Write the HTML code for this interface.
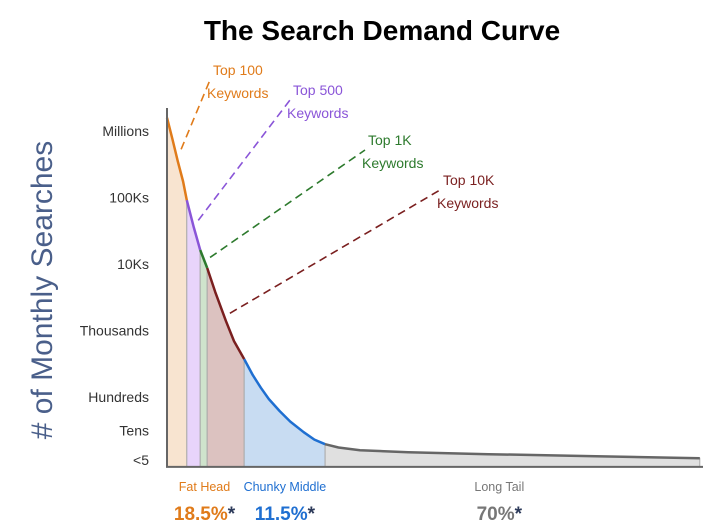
<!DOCTYPE html>
<html><head><meta charset="utf-8"><style>
html,body{margin:0;padding:0;background:#fff;}
svg{display:block;font-family:"Liberation Sans",sans-serif;}
</style></head><body>
<svg id="chart" width="715" height="532" viewBox="0 0 715 532">
<text x="382" y="40" text-anchor="middle" font-size="28" font-weight="bold" fill="#000">The Search Demand Curve</text>
<text transform="translate(52,290) rotate(-90)" text-anchor="middle" font-size="30" fill="#4a5f8a"># of Monthly Searches</text>
<g id="regions"></g><g id="curve"></g><g id="axes"></g><g id="ticks"></g><g id="annots"></g><g id="bottom"></g>
</svg>
<script>
const tickLabels=["Millions","100Ks","10Ks","Thousands","Hundreds","Tens","<5"];
const tickValues=[6,5,4,3,2,1.5,1.05];
const curveX=[0,1,2,3,3.7,5,6.2,7.5,9,11,12.5,14.4,16,17.5,19,21,23,25.5,27.5,29.5,32,36,45,60,80,99.4];
const curveY=[6.2,5.88,5.55,5.24,4.96,4.55,4.21,3.94,3.58,3.14,2.84,2.57,2.33,2.14,1.97,1.79,1.63,1.47,1.36,1.29,1.24,1.2,1.17,1.14,1.11,1.08];
const segBounds=[0,3.7,6.2,7.5,14.4,29.5,99.4];
const segNames=["top-100","top-500","top-1k","top-10k","chunky-middle","long-tail"];
const segLine=["#e07b1a","#8a55d8","#2d7a2d","#7a1f1f","#1f6fd1","#666"];
const segFill=["#f8e4d0","#e8d4fb","#cfe3cc","#dcc2c0","#c8dcf2","#e0e0e0"];
const annotLabels=["Top 100","Top 500","Top 1K","Top 10K"];
const annotAnchorX=[1.7,4.9,7.1,10.8];
const bottomLabels=["Fat Head","Chunky Middle","Long Tail"];
const bottomPct=["18.5%","11.5%","70%"];
const bottomCenterX=[7,22,62];
const baseV=0.95;
const X=v=>167+5.36*v, Y=v=>530-66.5*v;
const NS="http://www.w3.org/2000/svg";
function mk(t,a,p){const e=document.createElementNS(NS,t);for(const k in a)e.setAttribute(k,a[k]);p.appendChild(e);return e;}
function interp(x){for(let i=1;i<curveX.length;i++){if(x<=curveX[i]){const t=(x-curveX[i-1])/(curveX[i]-curveX[i-1]);return curveY[i-1]+t*(curveY[i]-curveY[i-1]);}}return curveY[curveY.length-1];}
function segPts(a,b){const pts=[[a,interp(a)]];curveX.forEach((x,i)=>{if(x>a&&x<b)pts.push([x,curveY[i]]);});pts.push([b,interp(b)]);return pts;}
const R=document.getElementById('regions'),C=document.getElementById('curve');
for(let s=0;s<segNames.length;s++){
 const pts=segPts(segBounds[s],segBounds[s+1]);
 let d=pts.map((p,i)=>(i?'L':'M')+X(p[0]).toFixed(1)+','+Y(p[1]).toFixed(1)).join(' ');
 const poly=mk('path',{d:d+` L${X(segBounds[s+1])},${Y(baseV)} L${X(segBounds[s])},${Y(baseV)} Z`,fill:segFill[s],stroke:'#aaa','stroke-width':1},R);
 
 
 const ln=mk('path',{d:d,fill:'none',stroke:segLine[s],'stroke-width':2.5,'stroke-linejoin':'round'},C);
 
 
}
const A=document.getElementById('axes');
const ya=mk('line',{x1:X(0),y1:108,x2:X(0),y2:Y(baseV),stroke:'#666','stroke-width':2},A);


const xa=mk('line',{x1:X(0)-1,y1:Y(baseV),x2:703,y2:Y(baseV),stroke:'#666','stroke-width':2},A);


const T=document.getElementById('ticks');
tickLabels.forEach((l,i)=>{const t=mk('text',{x:149,y:Y(tickValues[i])+5,'text-anchor':'end','font-size':14,fill:'#333'},T);t.textContent=l;
 
 });
const N=document.getElementById('annots');
const ends=[[210,80],[290,100],[365,150],[440,190]];
annotLabels.forEach((l,i)=>{const ax=annotAnchorX[i],ay=interp(ax);
 const x1=X(ax)+5,y1=Y(ay)-5;
 const dl=mk('line',{x1:x1,y1:y1,x2:ends[i][0],y2:ends[i][1],stroke:segLine[i],'stroke-width':1.6,'stroke-dasharray':'8,5'},N);
 
 
 const g=mk('text',{x:ends[i][0]+3,y:ends[i][1]-5,'font-size':14,fill:segLine[i]},N);
 
 
 const t1=mk('tspan',{x:ends[i][0]+3},g);t1.textContent=l;
 const t2=mk('tspan',{x:ends[i][0]-3,dy:23},g);t2.textContent="Keywords";
});
const B=document.getElementById('bottom');
const bCol=["#e07b1a","#1f6fd1","#777"];
bottomLabels.forEach((l,i)=>{const cx=X(bottomCenterX[i]);
 const t=mk('text',{x:cx,y:491,'text-anchor':'middle','font-size':12.5,fill:bCol[i]},B);t.textContent=l;
 
 
 const p=mk('text',{x:cx,y:520,'text-anchor':'middle','font-size':19,'font-weight':'bold',fill:bCol[i]},B);
 
 
 const s1=mk('tspan',{},p);s1.textContent=bottomPct[i];
 const s2=mk('tspan',{fill:'#2c3a5a'},p);s2.textContent="*";
});
</script>
</body></html>
